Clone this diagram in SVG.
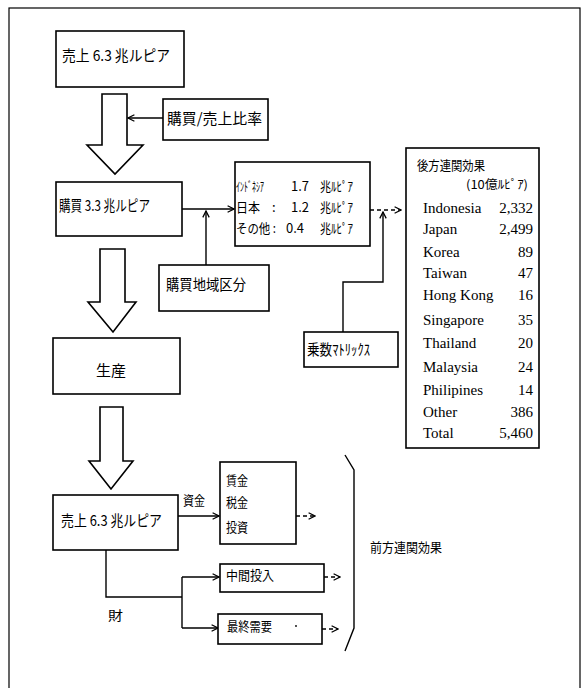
<svg xmlns="http://www.w3.org/2000/svg" width="586" height="688" viewBox="0 0 586 688">
<style>
.bx{fill:#fff;stroke:#000;stroke-width:1.6}
.ha{fill:#fff;stroke:#000;stroke-width:1.6;stroke-linejoin:miter}
.ln{fill:none;stroke:#000;stroke-width:1.4}
.dl{fill:none;stroke:#000;stroke-width:1.4;stroke-dasharray:4 3}
.j{font-family:"Noto Sans CJK JP","Noto Sans",sans-serif;font-size:15px;fill:#000}
.s{font-size:13px}
.t{font-size:12px}
.e{font-family:"Liberation Serif","Noto Sans CJK JP",serif;font-size:15px;fill:#000}
</style>
<defs>
<marker id="ah" viewBox="0 0 10 10" refX="9" refY="5" markerWidth="8" markerHeight="8" markerUnits="userSpaceOnUse" orient="auto">
<path d="M1,1 L9,5 L1,9" fill="none" stroke="#000" stroke-width="1.6"/>
</marker>
</defs>
<rect x="0" y="0" width="586" height="688" fill="#fff"/>
<rect x="9" y="8" width="571" height="700" fill="none" stroke="#000" stroke-width="1.2"/>

<g id="connectors">
<polygon class="ha" points="102,94 127,94 127,145 143,145 115,174 87,145 102,145"/>
<polygon class="ha" points="100,249 125,249 125,302 136,302 113,332 88,302 100,302"/>
<polygon class="ha" points="100,407 123,407 123,461 133,461 111,489 89,461 100,461"/>
<line class="ln" x1="163" y1="118" x2="128" y2="118" marker-end="url(#ah)"/>
<line class="ln" x1="182" y1="209" x2="234" y2="209" marker-end="url(#ah)"/>
<line class="ln" x1="206" y1="265" x2="206" y2="211" marker-end="url(#ah)"/>
<line class="dl" x1="370" y1="210" x2="401" y2="210" marker-end="url(#ah)"/>
<polyline class="ln" points="343,332 343,282 383,282 383,212" marker-end="url(#ah)"/>
<line class="ln" x1="178" y1="516" x2="219" y2="516" marker-end="url(#ah)"/>
<polyline class="ln" points="106,550 106,597 182,597"/>
<line class="ln" x1="182" y1="577" x2="182" y2="628"/>
<line class="ln" x1="182" y1="577" x2="219" y2="577" marker-end="url(#ah)"/>
<line class="ln" x1="182" y1="628" x2="218" y2="628" marker-end="url(#ah)"/>
<line class="dl" x1="296" y1="516" x2="315" y2="516" marker-end="url(#ah)"/>
<line class="dl" x1="324" y1="577" x2="340" y2="577" marker-end="url(#ah)"/>
<line class="dl" x1="322" y1="629" x2="338" y2="629" marker-end="url(#ah)"/>
<path class="ln" d="M345,455 L354,470 L354,628 L345,651"/>
</g>

<g id="sales-top">
<rect class="bx" x="56" y="31" width="128" height="56"/>
<text class="j" x="62" y="61" textLength="108" lengthAdjust="spacingAndGlyphs">売上 6.3  兆ルピア</text>
</g>
<g id="ratio">
<rect class="bx" x="163" y="99" width="105" height="41"/>
<text class="j" x="167" y="124" textLength="95" lengthAdjust="spacingAndGlyphs">購買/売上比率</text>
</g>
<g id="purchase">
<rect class="bx" x="56" y="182" width="126" height="54"/>
<text class="j" x="59" y="211" textLength="91" lengthAdjust="spacingAndGlyphs">購買 3.3  兆ルピア</text>
</g>
<g id="region">
<rect class="bx" x="159" y="265" width="110" height="46"/>
<text class="j" x="166" y="290" textLength="80" lengthAdjust="spacingAndGlyphs">購買地域区分</text>
</g>
<g id="breakdown">
<rect class="bx" x="235" y="162" width="135" height="84"/>
<text class="j s" y="191"><tspan x="236" textLength="28" lengthAdjust="spacingAndGlyphs">ｲﾝﾄﾞﾈｼｱ</tspan><tspan x="291">1.7</tspan><tspan x="320" textLength="33" lengthAdjust="spacingAndGlyphs">兆ﾙﾋﾟｱ</tspan></text>
<text class="j s" y="212"><tspan x="236" textLength="24" lengthAdjust="spacingAndGlyphs">日本</tspan><tspan x="272">:</tspan><tspan x="291">1.2</tspan><tspan x="320" textLength="33" lengthAdjust="spacingAndGlyphs">兆ﾙﾋﾟｱ</tspan></text>
<text class="j s" y="233"><tspan x="236" textLength="40" lengthAdjust="spacingAndGlyphs">その他 :</tspan><tspan x="286">0.4</tspan><tspan x="320" textLength="33" lengthAdjust="spacingAndGlyphs">兆ﾙﾋﾟｱ</tspan></text>
</g>
<g id="multiplier">
<rect class="bx" x="304" y="332" width="94" height="35"/>
<text class="j" x="307" y="355" textLength="63" lengthAdjust="spacingAndGlyphs">乗数ﾏﾄﾘｯｸｽ</text>
</g>
<g id="backward">
<rect class="bx" x="406" y="148" width="133" height="300"/>
<text class="j s" x="417" y="170" textLength="68" lengthAdjust="spacingAndGlyphs">後方連関効果</text>
<text class="j t" x="466" y="189" textLength="62" lengthAdjust="spacingAndGlyphs">(10億ﾙﾋﾟｱ)</text>
<g class="e">
<text x="423" y="213">Indonesia</text><text x="533" y="213" text-anchor="end">2,332</text>
<text x="423" y="234">Japan</text><text x="533" y="234" text-anchor="end">2,499</text>
<text x="423" y="257">Korea</text><text x="533" y="257" text-anchor="end">89</text>
<text x="423" y="278">Taiwan</text><text x="533" y="278" text-anchor="end">47</text>
<text x="423" y="300">Hong Kong</text><text x="533" y="300" text-anchor="end">16</text>
<text x="423" y="325">Singapore</text><text x="533" y="325" text-anchor="end">35</text>
<text x="423" y="348">Thailand</text><text x="533" y="348" text-anchor="end">20</text>
<text x="423" y="372">Malaysia</text><text x="533" y="372" text-anchor="end">24</text>
<text x="423" y="395">Philipines</text><text x="533" y="395" text-anchor="end">14</text>
<text x="423" y="417">Other</text><text x="533" y="417" text-anchor="end">386</text>
<text x="423" y="438">Total</text><text x="533" y="438" text-anchor="end">5,460</text>
</g>
</g>
<g id="production">
<rect class="bx" x="53" y="338" width="127" height="56"/>
<text class="j" x="111" y="376" text-anchor="middle">生産</text>
</g>
<g id="sales-bottom">
<rect class="bx" x="53" y="495" width="125" height="55"/>
<text class="j" x="61" y="526" textLength="101" lengthAdjust="spacingAndGlyphs">売上 6.3 兆ルピア</text>
</g>
<g id="funds-label"><text class="j s" x="183" y="505" textLength="22" lengthAdjust="spacingAndGlyphs">資金</text></g>
<g id="goods-label"><text class="j s" x="108" y="620" textLength="15" lengthAdjust="spacingAndGlyphs">財</text></g>
<g id="value-added">
<rect class="bx" x="220" y="462" width="76" height="82"/>
<text class="j s" x="226" y="485" textLength="22" lengthAdjust="spacingAndGlyphs">賃金</text>
<text class="j s" x="226" y="507" textLength="22" lengthAdjust="spacingAndGlyphs">税金</text>
<text class="j s" x="226" y="532" textLength="22" lengthAdjust="spacingAndGlyphs">投資</text>
</g>
<g id="intermediate">
<rect class="bx" x="220" y="564" width="104" height="28"/>
<text class="j s" x="226" y="580" textLength="48" lengthAdjust="spacingAndGlyphs">中間投入</text>
</g>
<g id="final-demand">
<rect class="bx" x="218" y="614" width="104" height="30"/>
<text class="j s" x="227" y="631" textLength="45" lengthAdjust="spacingAndGlyphs">最終需要</text>
<circle cx="296" cy="626" r="0.9" fill="#000"/>
</g>
<g id="forward">
<text class="j s" x="370" y="552" textLength="72" lengthAdjust="spacingAndGlyphs">前方連関効果</text>
</g>
</svg>
